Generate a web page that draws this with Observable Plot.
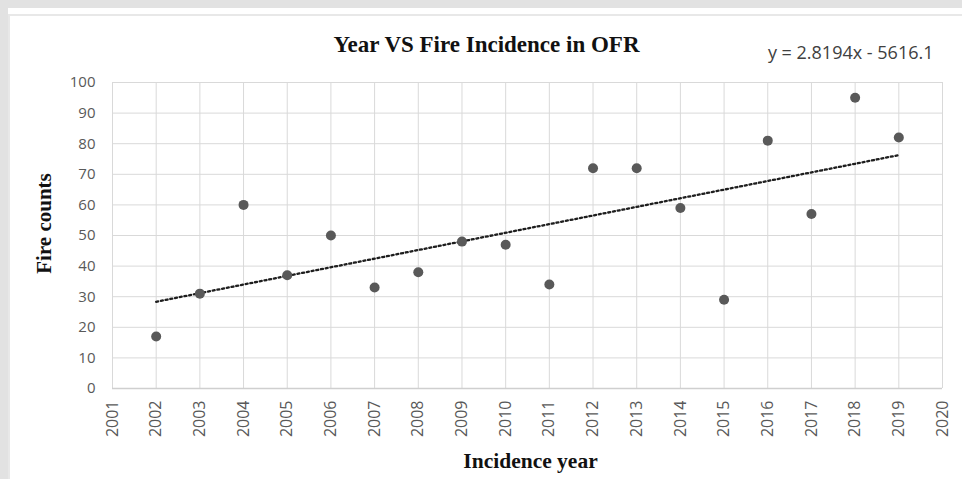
<!DOCTYPE html>
<html>
<head>
<meta charset="utf-8">
<script src="https://cdn.jsdelivr.net/npm/d3@7"></script>
<script src="https://cdn.jsdelivr.net/npm/@observablehq/plot@0.6"></script>
<style>
  html, body { margin: 0; padding: 0; background: #e2e2e2; width: 962px; height: 479px; overflow: hidden; }
  #card { position: absolute; left: 8px; top: 8px; width: 954px; height: 471px; background: #fff; }
  #inner { position: absolute; left: 8px; top: 14px; width: 954px; height: 465px; border-top: 2px solid #e8e8e8; border-left: 2px solid #e8e8e8; box-sizing: border-box; }
  #chart { position: absolute; left: 0; top: 0; }
</style>
</head>
<body>
<div id="card"></div>
<div id="inner"></div>
<div id="chart"></div>
<script>
const years = [2002, 2003, 2004, 2005, 2006, 2007, 2008, 2009, 2010, 2011, 2012, 2013, 2014, 2015, 2016, 2017, 2018, 2019];
const fireCounts = [17, 31, 60, 37, 50, 33, 38, 48, 47, 34, 72, 72, 59, 29, 81, 57, 95, 82];
const xTicks = d3.range(2001, 2021);
const yTicks = [0, 10, 20, 30, 40, 50, 60, 70, 80, 90, 100];
const trendCoef = [2.8194, -5616.1];
const titleText = ["Year VS Fire Incidence in OFR"];
const equationText = ["y = 2.8194x - 5616.1"];
const xLabel = ["Incidence year"];
const yLabel = ["Fire counts"];

const data = years.map((year, i) => ({year, count: fireCounts[i]}));
const trend = [d3.min(years), d3.max(years)].map(year => ({year, count: trendCoef[0] * year + trendCoef[1]}));

const serif = "'Liberation Serif', 'Times New Roman', serif";
const sans = "'Open Sans', 'Liberation Sans', sans-serif";

const chart = Plot.plot({
  width: 962,
  height: 479,
  marginLeft: 112,
  marginRight: 20,
  marginTop: 82,
  marginBottom: 91,
  style: {background: "transparent", fontFamily: sans, fontSize: "15px", color: "#595959"},
  x: {domain: [2001, 2020], ticks: xTicks, tickFormat: d => String(d), label: null},
  y: {domain: [0, 100], ticks: yTicks, label: null},
  marks: [
    Plot.gridX(xTicks, {stroke: "#d9d9d9", strokeOpacity: 1, strokeWidth: 1}),
    Plot.gridY(yTicks, {stroke: "#d9d9d9", strokeOpacity: 1, strokeWidth: 1}),
    Plot.ruleY([0], {stroke: "#cfcfcf", strokeWidth: 1.3}),
    Plot.axisX({ticks: xTicks, tickFormat: d => String(d), tickRotate: -90, tickSize: 0, tickPadding: 12, fill: "#595959", fontSize: 16, label: null}),
    Plot.axisY({ticks: yTicks, tickSize: 0, tickPadding: 17, fill: "#595959", fontSize: 15, label: null}),
    Plot.line(trend, {x: "year", y: "count", stroke: "#1e1e1e", strokeWidth: 2.3, strokeDasharray: "2,2.8"}),
    Plot.dot(data, {x: "year", y: "count", r: 5, fill: "#595959", stroke: "none"}),
    Plot.text(titleText, {frameAnchor: "top", dy: -38, dx: -41, text: d => d, fontFamily: serif, fontWeight: "bold", fontSize: 23, fill: "#111", lineAnchor: "middle", textAnchor: "middle"}),
    Plot.text(equationText, {frameAnchor: "top-right", dy: -29, dx: -9, text: d => d, fontFamily: sans, fontSize: 18, fill: "#404040", lineAnchor: "middle", textAnchor: "end"}),
    Plot.text(xLabel, {frameAnchor: "bottom", dy: 73, dx: 3, text: d => d, fontFamily: serif, fontWeight: "bold", fontSize: 21.5, fill: "#111", lineAnchor: "middle", textAnchor: "middle"}),
    Plot.text(yLabel, {frameAnchor: "left", dx: -68, dy: -12, rotate: -90, text: d => d, fontFamily: serif, fontWeight: "bold", fontSize: 21, fill: "#111", lineAnchor: "middle", textAnchor: "middle"})
  ]
});
document.getElementById("chart").appendChild(chart);
</script>
</body>
</html>
